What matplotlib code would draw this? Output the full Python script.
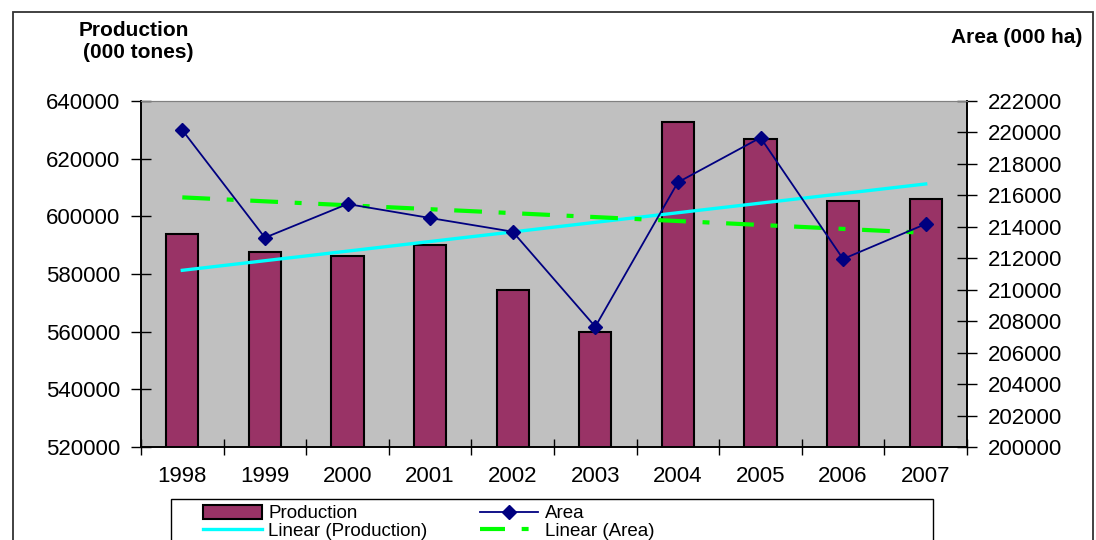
import matplotlib
matplotlib.use("Agg")
import matplotlib.pyplot as plt
import numpy as np
from matplotlib.patches import Rectangle
from matplotlib.lines import Line2D

# data
years = ["1998", "1999", "2000", "2001", "2002", "2003", "2004", "2005", "2006", "2007"]
production = [593700, 587600, 586250, 590060, 574450, 560000, 632600, 626700, 605300, 605900]
area = [220150, 213310, 215450, 214560, 213690, 207650, 216830, 219670, 211955, 214180]
prod_ticks = [520000, 540000, 560000, 580000, 600000, 620000, 640000]
area_ticks = list(range(200000, 222001, 2000))

plt.rcParams["font.family"] = ["Liberation Sans", "DejaVu Sans"]
plt.rcParams["lines.scale_dashes"] = False

W, H = 1096, 540
fig = plt.figure(figsize=(W / 100, H / 100), dpi=100)


def fx(px):
    return px / W


def fy(py):
    return 1 - py / H


# outer chart frame (cut off at the bottom like the source)
fig.patches.append(Rectangle((fx(13), fy(560)), fx(1093) - fx(13), fy(12) - fy(560),
                             transform=fig.transFigure, fill=False, ec="#333333", lw=1.3))

ax = fig.add_axes([fx(141), fy(447), fx(967) - fx(141), fy(101) - fy(447)])
ax.set_facecolor("#C0C0C0")
x = np.arange(len(years))

ax.bar(x, production, width=0.39, color="#993366", edgecolor="black", lw=1.5, zorder=2)
ax.set_xlim(-0.5, len(years) - 0.5)
ax.set_ylim(prod_ticks[0], prod_ticks[-1])
ax.set_yticks(prod_ticks)
ax.set_yticklabels([str(v) for v in prod_ticks])

ax2 = ax.twinx()
ax2.set_ylim(area_ticks[0], area_ticks[-1])
ax2.set_yticks(area_ticks)
ax2.set_yticklabels([str(v) for v in area_ticks])

# trend lines (least squares, like Excel's linear trendline)
cp = np.polyfit(x, production, 1)
ca = np.polyfit(x, area, 1)
xe = np.array([x[0], x[-1]])
ax.plot(xe, np.polyval(cp, xe), color="#00FFFF", lw=2.4, zorder=3)
ax2.plot(xe, np.polyval(ca, xe), color="#00FF00", lw=3,
         linestyle=(0, (20, 12, 5, 12)), zorder=3)
ax2.plot(x, area, color="#000080", lw=1.3, marker="D", ms=7.5, zorder=4)

ax.set_xticks(x)
ax.set_xticklabels(years)
ax.set_xticks(np.arange(len(years) + 1) - 0.5, minor=True)
ax.tick_params(axis="x", which="major", length=0, pad=14, labelsize=16)
ax.tick_params(axis="x", which="minor", direction="inout", length=12, width=1)
ax.tick_params(axis="y", direction="inout", length=14, width=1, pad=8, labelsize=16)
ax2.tick_params(axis="y", direction="inout", length=14, width=1, pad=8, labelsize=16)

for a in (ax, ax2):
    for s in ("left", "right", "bottom"):
        a.spines[s].set_color("black")
        a.spines[s].set_linewidth(1.2)
    a.spines["top"].set_color("#808080")

fig.text(fx(134), fy(36), "Production", ha="center", va="baseline",
         fontsize=15, fontweight="bold")
fig.text(fx(138), fy(58), "(000 tones)", ha="center", va="baseline",
         fontsize=15, fontweight="bold")
fig.text(fx(1082), fy(43), "Area (000 ha)", ha="right", va="baseline",
         fontsize=15, fontweight="bold")

# legend box, also cut off at the bottom
fig.patches.append(Rectangle((fx(171), fy(560)), fx(933) - fx(171), fy(499) - fy(560),
                             transform=fig.transFigure, fill=False, ec="black", lw=1))
handles = [
    Rectangle((0, 0), 1, 1, fc="#993366", ec="black", lw=1.5),
    Line2D([], [], color="#00FFFF", lw=2.4),
    Line2D([], [], color="#000080", lw=1.3, marker="D", ms=7.5),
    Line2D([], [], color="#00FF00", lw=3, linestyle=(0, (18, 12, 5, 12))),
]
labels = ["Production", "Linear (Production)", "Area", "Linear (Area)"]
fig.legend(handles, labels, ncol=2, loc="upper left", bbox_to_anchor=(fx(194), fy(496)),
           frameon=False, borderpad=0, fontsize=13.5, handlelength=3.1,
           handletextpad=0.37, columnspacing=2.8, labelspacing=0.0)

fig.savefig("out.png", dpi=100, facecolor="white")
